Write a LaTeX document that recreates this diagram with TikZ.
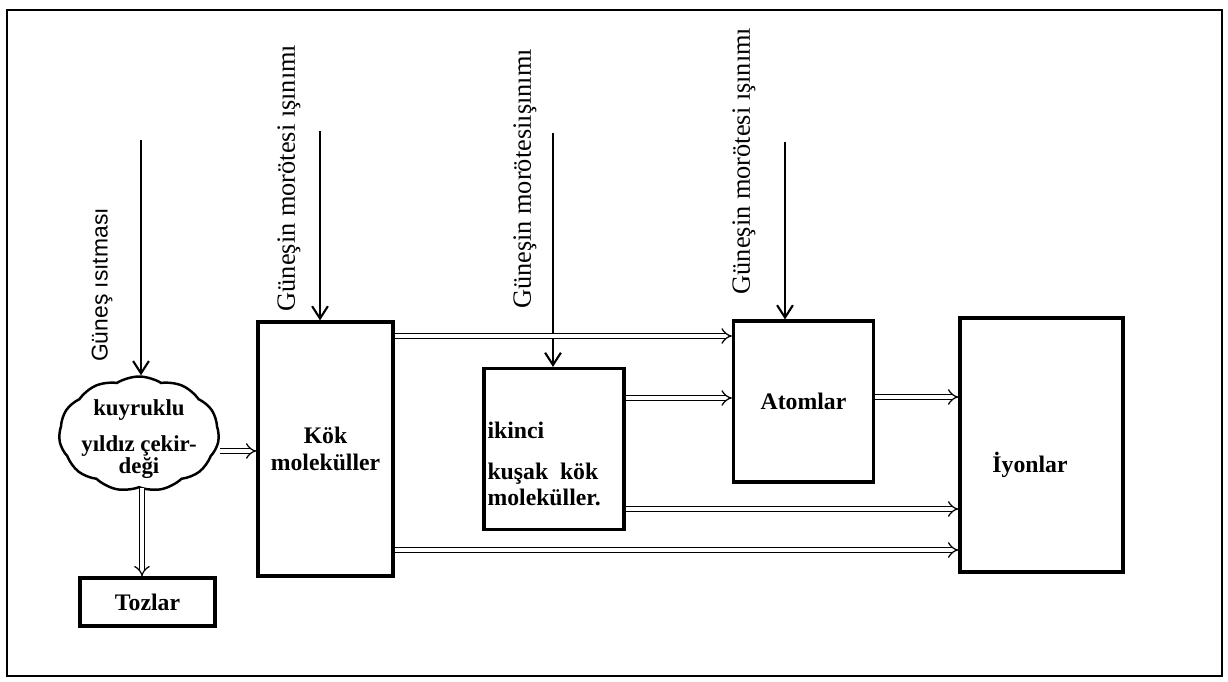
\documentclass[tikz,border=0pt]{standalone}
\usepackage{fontspec}
\setmainfont{Liberation Serif}
\newfontfamily\labelsans{Liberation Sans}
\usetikzlibrary{arrows.meta,shapes.symbols}
\tikzset{
  box/.style={draw, line width=1.8pt, inner sep=1pt, align=center,
    font=\fontsize{13.5}{15}\selectfont\bfseries},
  textlab/.style={inner sep=1pt, font=\fontsize{13.5}{15}\selectfont\bfseries},
  comet/.style={cloud, draw, line width=1.4pt, cloud puffs=11, cloud puff arc=65,
    cloud ignores aspect, inner sep=0pt},
  vlabel/.style={rotate=90, inner sep=1pt, font=\fontsize{15}{17}\selectfont},
  ray/.style={line width=1.2pt, -{Straight Barb[length=7pt, width=9pt]}},
  flow/.style={double, double distance=2.4pt, line width=0.7pt, -{Implies[scale=1.5]}}
}

\begin{document}
\begin{tikzpicture}[x=0.02cm, y=-0.02cm]
  \useasboundingbox (0,0) rectangle (1228,682);
  \draw[line width=1.2pt] (7,10) rectangle (1222,676);

  % boxes
  \node[comet, minimum width=3.2cm, minimum height=2.3cm] (comet) at (139,434) {};
  \node[textlab, align=center, font=\fontsize{13}{12.5}\selectfont\bfseries] (cometT)
    at ([yshift=-0.1cm]comet.center) {kuyruklu\\[8pt]yıldız çekir-\\deği};
  \node[box, minimum width=2.7cm, minimum height=0.96cm] (dust) at (147.5,602) {Tozlar};
  \node[box, minimum width=2.7cm, minimum height=5.08cm] (parent) at (325.5,449)
    {Kök\\moleküller};
  \node[box, minimum width=2.8cm, minimum height=3.22cm] (second) at (554,449) {};
  \node[textlab, align=left, anchor=west] (secondT) at ([xshift=0.06cm, yshift=-0.3cm]second.west)
    {ikinci\\[8pt]kuşak\enspace kök\\moleküller.};
  \node[box, minimum width=2.8cm, minimum height=3.22cm] (atoms) at (803.5,401.5) {Atomlar};
  \node[box, minimum width=3.26cm, minimum height=5.08cm] (ions) at (1041.5,445) {};
  \node[textlab] (ionsT) at ([xshift=-0.23cm, yshift=-0.4cm]ions.center) {İyonlar};

  % vertical labels
  \node[vlabel, font=\fontsize{13}{15}\selectfont\labelsans] (heat) at (102,285) {Güneş ısıtması};
  \node[vlabel] (uv1) at (289,178) {Güneşin morötesi ışınımı};
  \node[vlabel] (uv2) at (525,179) {Güneşin morötesiışınımı};
  \node[vlabel] (uv3) at (744,161) {Güneşin morötesi ışınımı};

  % incoming radiation
  \coordinate (h1) at (141,140);
  \coordinate (h2) at (320,131);
  \coordinate (h3) at (553,133);
  \coordinate (h4) at (785,142);
  \draw[ray] (h1) -- (h1 |- comet.north);
  \draw[ray] (h2) -- (h2 |- parent.north);
  \draw[ray] (h3) -- (h3 |- second.north);
  \draw[ray] (h4) -- (h4 |- atoms.north);

  % flows
  \draw[flow] (comet.east |- 0,451) -- (parent.west |- 0,451);
  \draw[flow] (comet.south -| 142,0) -- (dust.north -| 142,0);
  \draw[flow] (parent.east |- 0,336) -- (atoms.west |- 0,336);
  \draw[flow] (second.east |- 0,398) -- (atoms.west |- 0,398);
  \draw[flow] (atoms.east |- 0,397) -- (ions.west |- 0,397);
  \draw[flow] (second.east |- 0,509) -- (ions.west |- 0,509);
  \draw[flow] (parent.east |- 0,550) -- (ions.west |- 0,550);
\end{tikzpicture}
\end{document}
